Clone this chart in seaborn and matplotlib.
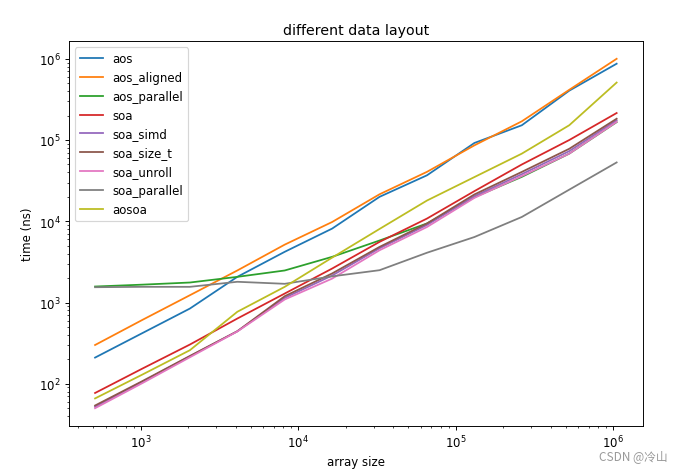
import numpy as np
import pandas as pd
import matplotlib
matplotlib.use("Agg")
import matplotlib.pyplot as plt
import seaborn as sns

# array sizes: 2^9 .. 2^20
sizes = [512, 1024, 2048, 4096, 8192, 16384, 32768, 65536,
         131072, 262144, 524288, 1048576]

aos = [210, 421, 843, 2070, 4210, 8130, 20000, 36800, 92000, 152000, 405000, 870000]
aos_aligned = [300, 612, 1230, 2480, 5160, 9800, 21500, 40600, 86000, 170000, 415000, 1000000]
aos_parallel = [1574, 1660, 1763, 2070, 2480, 3650, 5800, 9400, 19800, 35200, 68000, 166000]
soa = [77, 154, 304, 635, 1290, 2620, 5580, 10800, 23500, 50000, 100000, 215000]
soa_simd = [52, 106, 218, 443, 1140, 2150, 4650, 9000, 20400, 38000, 73000, 175000]
soa_size_t = [54, 108, 220, 443, 1196, 2280, 4840, 9400, 21400, 40500, 78000, 183000]
soa_unroll = [50, 102, 212, 440, 1090, 1970, 4400, 8500, 19400, 36000, 68000, 167000]
soa_parallel = [1543, 1560, 1560, 1800, 1700, 2100, 2500, 4100, 6400, 11300, 24500, 53000]
aosoa = [66, 130, 259, 769, 1560, 3570, 8050, 18000, 35000, 68000, 152000, 510000]

series = {
    "aos": aos, "aos_aligned": aos_aligned, "aos_parallel": aos_parallel,
    "soa": soa, "soa_simd": soa_simd, "soa_size_t": soa_size_t,
    "soa_unroll": soa_unroll, "soa_parallel": soa_parallel, "aosoa": aosoa,
}

df = pd.concat([pd.DataFrame({"array size": sizes, "time (ns)": v, "layout": k})
                for k, v in series.items()], ignore_index=True)

# original was a ~800x560 figure shrunk to 679x474, so render at dpi 85
fig, ax = plt.subplots(figsize=(7.988, 5.576), dpi=85)
fig.subplots_adjust(left=0.1016, right=0.9466, bottom=0.0998, top=0.9108)

sns.lineplot(data=df, x="array size", y="time (ns)", hue="layout",
             palette=sns.color_palette("tab10", len(series)), lw=1.5, ax=ax)
ax.set_xscale("log"); ax.set_yscale("log")
ax.set_title("different data layout")
ax.set_xlabel("array size"); ax.set_ylabel("time (ns)")
handles, labels = ax.get_legend_handles_labels()
ax.legend(handles, labels, loc="upper left")

fig.text(0.983, 0.036, "CSDN @冷山", ha="right", va="center", fontsize=10,
         color="#999999", family=["Noto Sans CJK SC", "DejaVu Sans"])

plt.savefig("out.png", dpi=85)
